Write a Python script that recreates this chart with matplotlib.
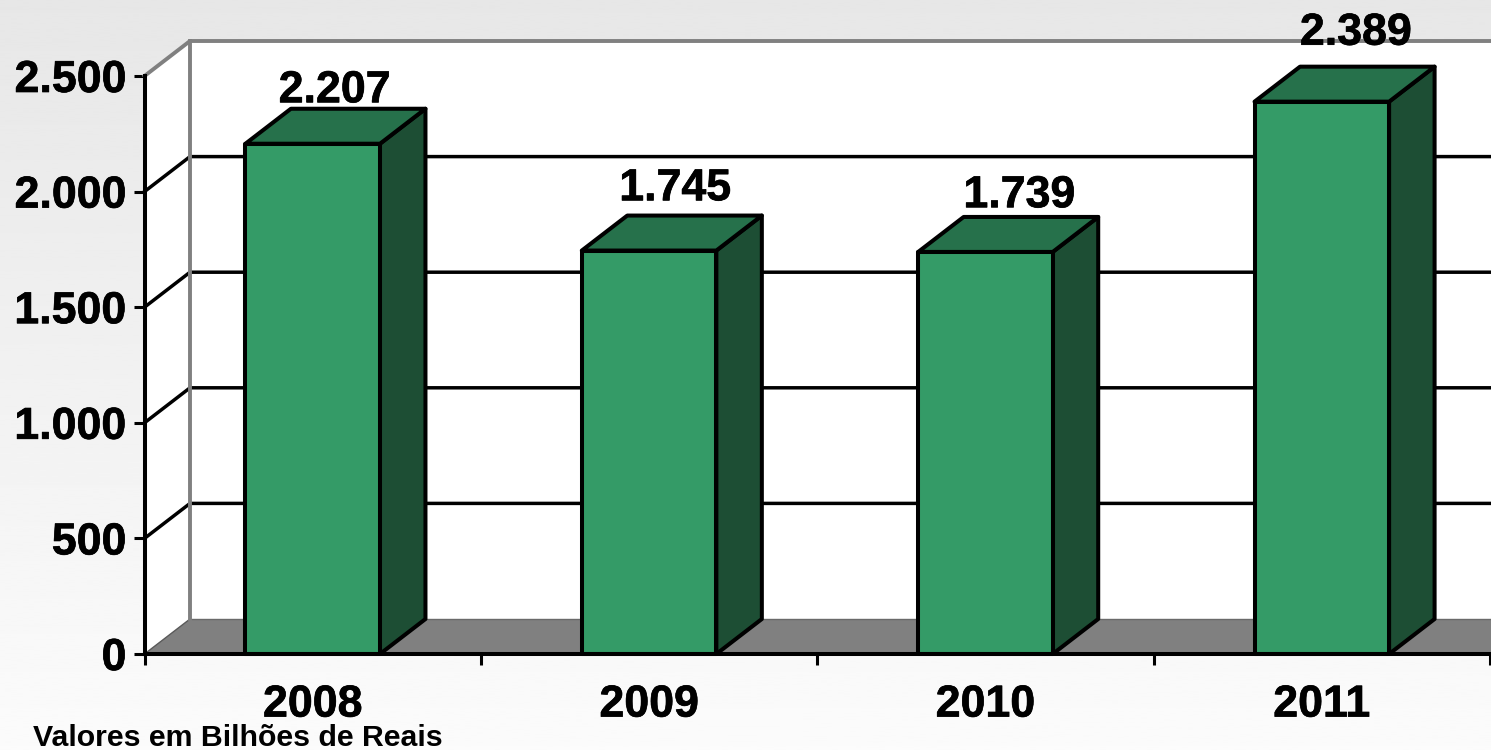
import numpy as np
import matplotlib
matplotlib.use('Agg')
import matplotlib.pyplot as plt
import matplotlib.patheffects as pe
from matplotlib.patches import Polygon

plt.rcParams['font.family'] = ['Liberation Sans', 'DejaVu Sans']
plt.rcParams['font.weight'] = 'bold'

# ── DATA ─────────────────────────────────────────────────────────────────────
years  = ['2008', '2009', '2010', '2011']
values = [2207, 1745, 1739, 2389]
y_ticks = [0, 500, 1000, 1500, 2000, 2500]
note = 'Valores em Bilhões de Reais'

# ── STYLE ────────────────────────────────────────────────────────────────────
W, H = 1491, 750
FRONT_FILL = '#349B67'
TOP_FILL   = '#26714B'
SIDE_FILL  = '#1D4E34'
FRAME      = '#808080'
LW         = 2.9
FS         = 32.2
HEAVY      = [pe.withStroke(linewidth=0.5, foreground='black')]

# front plane of the 3D box, in pixels
X0, X1 = 144.5, 1490.0
Y0, Y1 = 654.0, 76.0
# depth of the box in data units
DX = 45.5 / ((X1 - X0) / 4)
DY = 35.0 / ((Y0 - Y1) / 2500)
BAR_W = 0.40

# hand-placed data labels: shift from bar centre, lift above the bar top
label_dx   = [0.065, 0.078, 0.101, 0.101]
label_lift = [28, 66, 42, 95]


def fmt(v):
    return f"{v:,}".replace(',', '.')


fig = plt.figure(figsize=(W / 100, H / 100), dpi=100)

# page background, light grey fading to near white
bg = fig.add_axes([0, 0, 1, 1], zorder=0)
bg.imshow(np.linspace(0.905, 0.985, 256).reshape(-1, 1), cmap='gray', vmin=0, vmax=1,
          aspect='auto')
bg.axis('off')

ax = fig.add_axes([X0 / W, 1 - Y0 / H, (X1 - X0) / W, (Y0 - Y1) / H], zorder=1)
ax.patch.set_visible(False)
ax.set_xlim(0, 4)
ax.set_ylim(0, 2500)

XR = 4.5  # walls run off the right edge of the figure

# side wall, back wall, floor
ax.add_patch(Polygon([(0, 0), (DX, DY), (XR, DY), (XR, 2500 + DY), (DX, 2500 + DY), (0, 2500)],
                     fc='white', ec='none', clip_on=False, zorder=1))
ax.add_patch(Polygon([(0, 0), (DX, DY), (XR, DY), (XR, 0)],
                     fc=FRAME, ec='none', clip_on=False, zorder=1))
ax.plot([DX, XR], [DY, DY], color='#6a6a6a', lw=1.0, clip_on=False, zorder=1.5)
ax.plot([0, DX], [0, DY], color='#5a5a5a', lw=1.0, clip_on=False, zorder=1.5)

# gridlines: diagonal on the side wall, level across the back wall
for v in y_ticks[1:-1]:
    ax.plot([0, DX, XR], [v, v + DY, v + DY], color='black', lw=2.5, clip_on=False,
            solid_joinstyle='miter', zorder=2)

# grey frame of the back wall
ax.plot([DX, DX], [DY, 2500 + DY], color=FRAME, lw=2.8, clip_on=False, zorder=2.5)
ax.plot([0, DX, XR], [2500, 2500 + DY, 2500 + DY], color=FRAME, lw=2.8, clip_on=False,
        solid_joinstyle='miter', zorder=2.5)

# bars
for i, v in enumerate(values):
    x0 = i + 0.5 - BAR_W / 2
    x1 = x0 + BAR_W
    edge = dict(ec='black', lw=LW, joinstyle='round', clip_on=False, zorder=3)
    ax.add_patch(Polygon([(x1, 0), (x1 + DX, DY), (x1 + DX, v + DY), (x1, v)], fc=SIDE_FILL, **edge))
    ax.add_patch(Polygon([(x0, v), (x0 + DX, v + DY), (x1 + DX, v + DY), (x1, v)], fc=TOP_FILL, **edge))
    ax.add_patch(Polygon([(x0, 0), (x1, 0), (x1, v), (x0, v)], fc=FRONT_FILL, **edge))
    ax.text(i + 0.5 + label_dx[i], v + label_lift[i] + DY, fmt(v), ha='center', va='baseline',
            fontsize=FS, fontweight='bold', clip_on=False, zorder=5, path_effects=HEAVY)

# axes
for side in ('top', 'right'):
    ax.spines[side].set_visible(False)
for side in ('left', 'bottom'):
    ax.spines[side].set_linewidth(LW)
    ax.spines[side].set_zorder(4)
ax.spines['bottom'].set_capstyle('projecting')

ax.set_yticks(y_ticks)
ax.set_yticklabels([fmt(v) for v in y_ticks], fontsize=FS, fontweight='bold', path_effects=HEAVY)
ax.set_xticks(range(5))
ax.set_xticklabels([])
ax.set_xticks(np.arange(4) + 0.5, years, minor=True, fontsize=FS, fontweight='bold',
              path_effects=HEAVY)
ax.tick_params(axis='both', which='major', length=8, width=2.2, pad=5)
ax.tick_params(axis='x', which='minor', length=0, pad=22)

fig.text(33 / W, 1 - 746.5 / H, note, fontsize=21.8, fontweight='bold', ha='left', va='baseline',
         zorder=5)

fig.savefig('out.png', dpi=100)
